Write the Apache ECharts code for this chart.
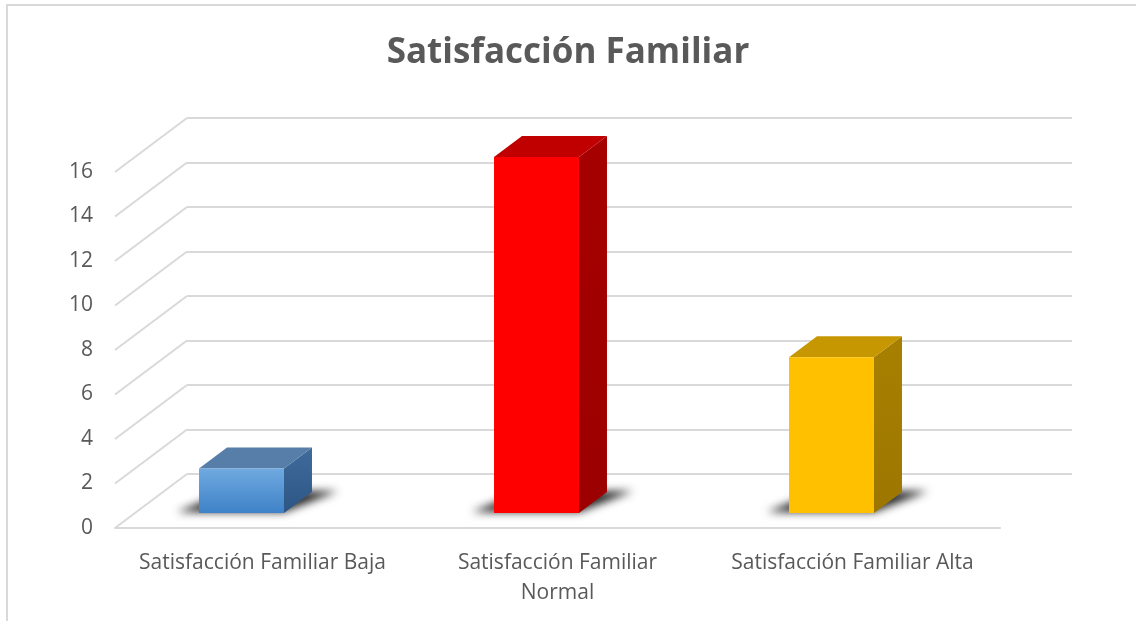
<!DOCTYPE html>
<html>
<head>
<meta charset="utf-8">
<script src="https://cdn.jsdelivr.net/npm/echarts@6/dist/echarts.min.js"></script>
<style>
  html, body { margin: 0; padding: 0; background: #fff; }
  #main { width: 1136px; height: 621px; }
</style>
</head>
<body>
<div id="main"></div>
<script>
  // data
  const categories = [
    "Satisfacción Familiar Baja",
    "Satisfacción Familiar\nNormal",
    "Satisfacción Familiar Alta",
  ];
  const values = [2, 16, 7];
  const yTicks = [0, 2, 4, 6, 8, 10, 12, 14, 16];

  // fake 3d: the back wall is the front plane pushed by (DX, DY)
  const FRONT = { left: 115, top: 172, width: 885, height: 356 };
  const BACK = { left: 187, top: 118, width: 885, height: 356 };
  const DX = BACK.left - FRONT.left;
  const DY = BACK.top - FRONT.top;

  const GRID_COLOR = "#d9d9d9";
  const TEXT_COLOR = "#595959";

  // bar look (front face gradient, top face, side face)
  const barStyles = [
    { front: ["#6fa9e0", "#3f82c8"], top: "#577ea8", side: ["#3f6b9b", "#2d5684"] },
    { front: ["#ff0000", "#ff0000"], top: "#c00000", side: ["#a60000", "#9c0000"] },
    { front: ["#ffc000", "#ffc000"], top: "#c69700", side: ["#a88000", "#9c7600"] },
  ];
  const BAR_WIDTH = 0.288; // share of the category band
  const BAR_SHIFT = [-21, -15]; // where the bar's front face sits on the floor
  const BAR_DEPTH = [28, -21];
  const FAR = 3000; // shadow shape drawn off-canvas, only its blur is shown

  const chart = echarts.init(document.getElementById("main"));

  function vGrad(c) {
    return new echarts.graphic.LinearGradient(0, 0, 0, 1, [
      { offset: 0, color: c[0] },
      { offset: 1, color: c[1] },
    ]);
  }

  function renderWallLine(params, api) {
    const p = api.coord([0, api.value(1)]);
    const x0 = params.coordSys.x;
    return {
      type: "line",
      shape: { x1: x0, y1: p[1], x2: x0 + DX, y2: p[1] + DY },
      style: { stroke: GRID_COLOR, lineWidth: 2 },
    };
  }

  function renderBar(params, api) {
    const i = api.value(0);
    const base = api.coord([i, 0]);
    const top = api.coord([i, api.value(1)]);
    const w = api.size([1, 0])[0] * BAR_WIDTH;
    const cx = base[0] + BAR_SHIFT[0];
    const xL = cx - w / 2;
    const xR = cx + w / 2;
    const yb = base[1] + BAR_SHIFT[1];
    const yt = top[1] + BAR_SHIFT[1];
    const [bx, by] = BAR_DEPTH;
    const s = barStyles[i];
    return {
      type: "group",
      children: [
        {
          type: "polygon",
          shape: {
            points: [
              [xL - 22 - FAR, yb - 1],
              [xR - FAR, yb - 1],
              [xR + bx + 26 - FAR, yb + by - 1],
              [xL + bx - FAR, yb + by],
            ],
          },
          style: {
            fill: "#000",
            shadowBlur: 9,
            shadowOffsetX: FAR,
            shadowColor: "rgba(0,0,0,0.85)",
          },
        },
        {
          type: "polygon",
          shape: { points: [[xR, yt], [xR + bx, yt + by], [xR + bx, yb + by], [xR, yb]] },
          style: { fill: vGrad(s.side) },
        },
        {
          type: "polygon",
          shape: { points: [[xL, yt], [xR, yt], [xR + bx, yt + by], [xL + bx, yt + by]] },
          style: { fill: s.top },
        },
        {
          type: "rect",
          shape: { x: xL, y: yt, width: w, height: yb - yt },
          style: { fill: vGrad(s.front) },
        },
      ],
    };
  }

  const option = {
    animation: false,
    backgroundColor: "#ffffff",
    title: {
      text: "Satisfacción Familiar",
      left: "center",
      top: 31,
      textStyle: {
        fontFamily: "Open Sans",
        fontSize: 35,
        fontWeight: "bold",
        color: TEXT_COLOR,
      },
    },
    graphic: [
      {
        type: "rect",
        shape: { x: 7, y: 5, width: 1300, height: 800 },
        style: { fill: "none", stroke: GRID_COLOR, lineWidth: 2 },
        silent: true,
      },
    ],
    grid: [
      { left: FRONT.left, top: FRONT.top, width: FRONT.width, height: FRONT.height },
      { left: BACK.left, top: BACK.top, width: BACK.width, height: BACK.height },
    ],
    xAxis: [
      {
        type: "category",
        gridIndex: 0,
        data: categories,
        axisLine: { lineStyle: { color: GRID_COLOR, width: 2 } },
        axisTick: { show: false },
        axisLabel: {
          interval: 0,
          margin: 20,
          color: TEXT_COLOR,
          fontFamily: "Open Sans",
          fontSize: 21,
          lineHeight: 30,
        },
      },
      {
        type: "category",
        gridIndex: 1,
        data: categories,
        axisLine: { show: false },
        axisTick: { show: false },
        axisLabel: { show: false },
      },
    ],
    yAxis: [
      {
        type: "value",
        gridIndex: 0,
        min: 0,
        max: 16,
        interval: 2,
        axisLine: { show: false },
        axisTick: { show: false },
        splitLine: { show: false },
        axisLabel: {
          margin: 22,
          color: TEXT_COLOR,
          fontFamily: "Open Sans",
          fontSize: 21,
        },
      },
      {
        type: "value",
        gridIndex: 1,
        min: 0,
        max: 16,
        interval: 2,
        axisLine: { show: false },
        axisTick: { show: false },
        axisLabel: { show: false },
        splitLine: { lineStyle: { color: GRID_COLOR, width: 2 } },
      },
    ],
    series: [
      {
        type: "custom",
        xAxisIndex: 0,
        yAxisIndex: 0,
        silent: true,
        z: 1,
        data: yTicks.map((v) => [0, v]),
        renderItem: renderWallLine,
      },
      {
        type: "custom",
        xAxisIndex: 0,
        yAxisIndex: 0,
        silent: true,
        z: 5,
        data: values.map((v, i) => [i, v]),
        renderItem: renderBar,
      },
    ],
  };

  chart.setOption(option);
</script>
</body>
</html>
